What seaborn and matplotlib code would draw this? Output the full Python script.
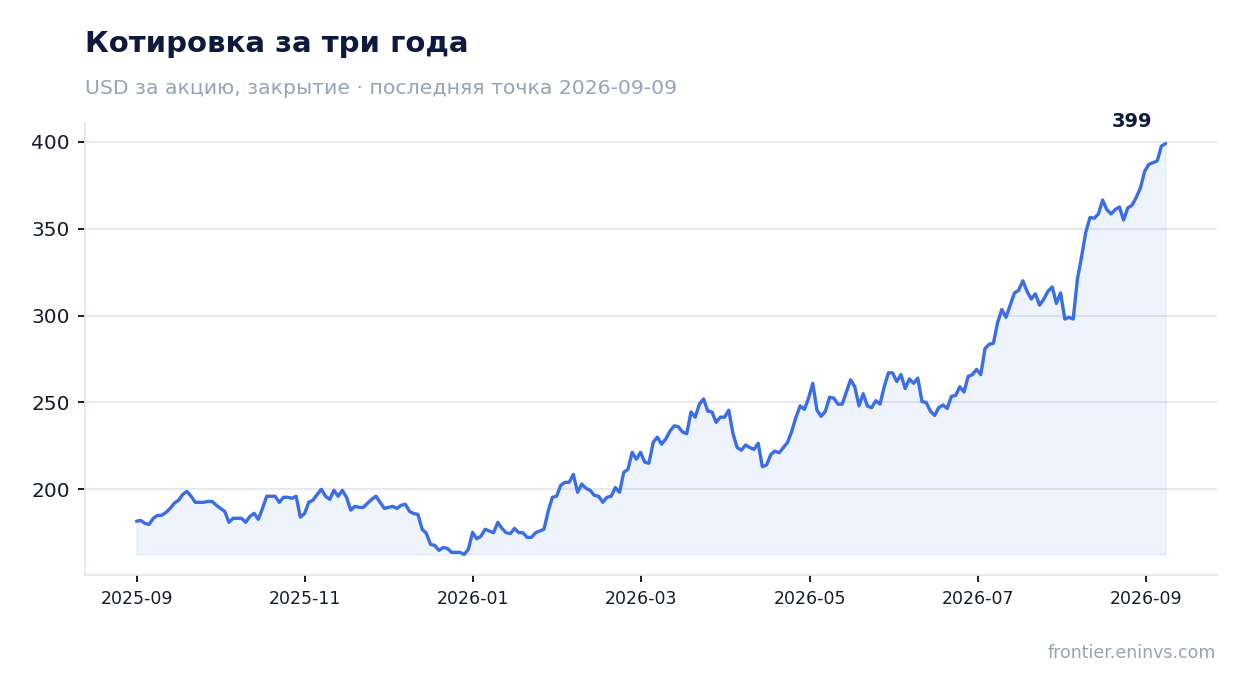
import matplotlib
matplotlib.use("Agg")
import matplotlib.pyplot as plt
import numpy as np
import pandas as pd
import seaborn as sns

# closing prices (first point 2025-09-01, last 2026-09-09)
start_date = "2025-09-01"
last_date = "2026-09-09"
prices = [
    181.6, 182.1, 180.4, 179.8, 183.3, 185.0, 185.0, 186.7, 189.0, 192.0,
    193.7, 197.0, 198.8, 196.0, 192.5, 192.5, 192.5, 193.0, 193.0, 190.8,
    189.0, 187.3, 181.0, 183.3, 183.3, 183.3, 181.0, 184.4, 186.2, 182.7,
    189.0, 196.0, 196.0, 196.0, 192.5, 195.4, 195.4, 194.8, 196.0, 184.0,
    186.0, 192.5, 193.7, 197.0, 200.0, 196.0, 194.2, 199.4, 196.0, 199.4,
    195.4, 188.0, 190.2, 189.6, 189.6, 192.0, 194.2, 196.0, 192.5, 189.0,
    189.6, 190.2, 189.0, 190.8, 191.4, 187.3, 186.0, 185.6, 177.0, 174.6,
    168.3, 167.7, 164.8, 166.5, 166.0, 163.7, 163.7, 163.7, 162.5, 165.4,
    175.2, 171.5, 173.0, 177.0, 176.0, 175.0, 181.0, 177.5, 175.0, 174.5,
    177.5, 175.0, 175.0, 172.3, 172.3, 175.0, 176.0, 177.0, 187.3, 195.4,
    196.0, 202.3, 204.0, 204.0, 208.6, 198.3, 203.0, 200.6, 199.4, 196.5,
    196.0, 192.5, 195.4, 196.0, 201.0, 198.3, 209.8, 211.5, 221.3, 217.3,
    221.3, 215.6, 215.0, 227.0, 230.0, 226.0, 229.0, 233.5, 236.5, 236.0,
    233.0, 232.0, 244.5, 241.5, 249.0, 252.0, 245.0, 244.5, 238.5, 241.5,
    241.5, 245.5, 232.0, 224.0, 222.5, 225.5, 224.0, 223.0, 226.5, 213.0,
    214.0, 220.0, 222.0, 221.0, 224.0, 227.0, 233.5, 241.5, 248.0, 246.0,
    252.5, 261.0, 245.5, 242.0, 245.0, 253.0, 252.5, 249.0, 249.0, 256.0,
    263.0, 259.0, 248.0, 255.0, 248.0, 247.0, 251.0, 249.0, 259.0, 267.0,
    267.0, 262.0, 266.0, 258.0, 263.5, 261.0, 264.0, 250.5, 250.0, 245.0,
    242.5, 247.0, 248.5, 246.5, 253.5, 254.0, 259.0, 256.0, 265.0, 266.0,
    269.0, 266.0, 281.0, 283.5, 284.0, 296.0, 303.5, 299.0, 306.0, 313.0,
    314.5, 320.0, 314.0, 309.5, 312.5, 306.0, 309.5, 314.0, 316.5, 307.0,
    313.0, 298.0, 299.0, 298.0, 321.0, 334.0, 348.0, 356.5, 356.0, 358.5,
    366.5, 361.0, 358.5, 361.0, 362.5, 355.0, 362.0, 363.5, 368.0, 373.5,
    383.0, 387.0, 388.0, 389.0, 397.5, 399.0,
]

title = "Котировка за три года"
subtitle = "USD за акцию, закрытие · последняя точка 2026-09-09"
source = "frontier.eninvs.com"

dates = pd.date_range(start_date, last_date, periods=len(prices))
df = pd.DataFrame({"date": dates, "price": prices})

line_color = "#3a6ee8"
ink = "#161c2c"
soft = "#e3e7f0"

sns.set_theme(style="white")
plt.rcParams["font.family"] = ["DejaVu Sans"]

fig = plt.figure(figsize=(12.47, 6.93), dpi=100)
ax = fig.add_axes([0.0682, 0.1703, 0.9078, 0.6522])

ax.fill_between(df["date"], df["price"], df["price"].min(),
                color=line_color, alpha=0.08, lw=1.2, zorder=1)
sns.lineplot(data=df, x="date", y="price", ax=ax, color=line_color,
             lw=2.4, zorder=3)

ax.set_xlabel("")
ax.set_ylabel("")

ticks = pd.date_range(start_date, periods=7, freq="61D")
ax.set_xticks(ticks)
ax.set_xticklabels([t.strftime("%Y-%m") for t in ticks])
ax.set_yticks([200, 250, 300, 350, 400])

ax.tick_params(axis="x", labelsize=12.5, colors=ink, length=5, width=1.4, pad=6)
ax.tick_params(axis="y", labelsize=14.5, colors=ink, length=5, width=1.4, pad=6)
ax.tick_params(left=True, bottom=True)

ax.grid(axis="y", color=soft, lw=1.3, zorder=0)
ax.set_axisbelow(True)
for side in ["top", "right"]:
    ax.spines[side].set_visible(False)
for side in ["left", "bottom"]:
    ax.spines[side].set_color(soft)
    ax.spines[side].set_linewidth(1.3)

# label for the last close
ax.annotate(f"{prices[-1]:.0f}", xy=(df["date"].iloc[-1], prices[-1]),
            xytext=(-24, 9), textcoords="offset points",
            ha="center", va="bottom", fontsize=14, fontweight="bold",
            color="#0d1a3d")

fig.text(0.0682, 0.925, title, fontsize=21, fontweight="bold",
         color="#0d1a3d", va="baseline", ha="left")
fig.text(0.0682, 0.864, subtitle, fontsize=14.7, color="#97a3b6",
         va="baseline", ha="left")
fig.text(0.975, 0.0505, source, fontsize=12.5, color="#97a3b6",
         va="baseline", ha="right")

fig.savefig("out.png", dpi=100)
